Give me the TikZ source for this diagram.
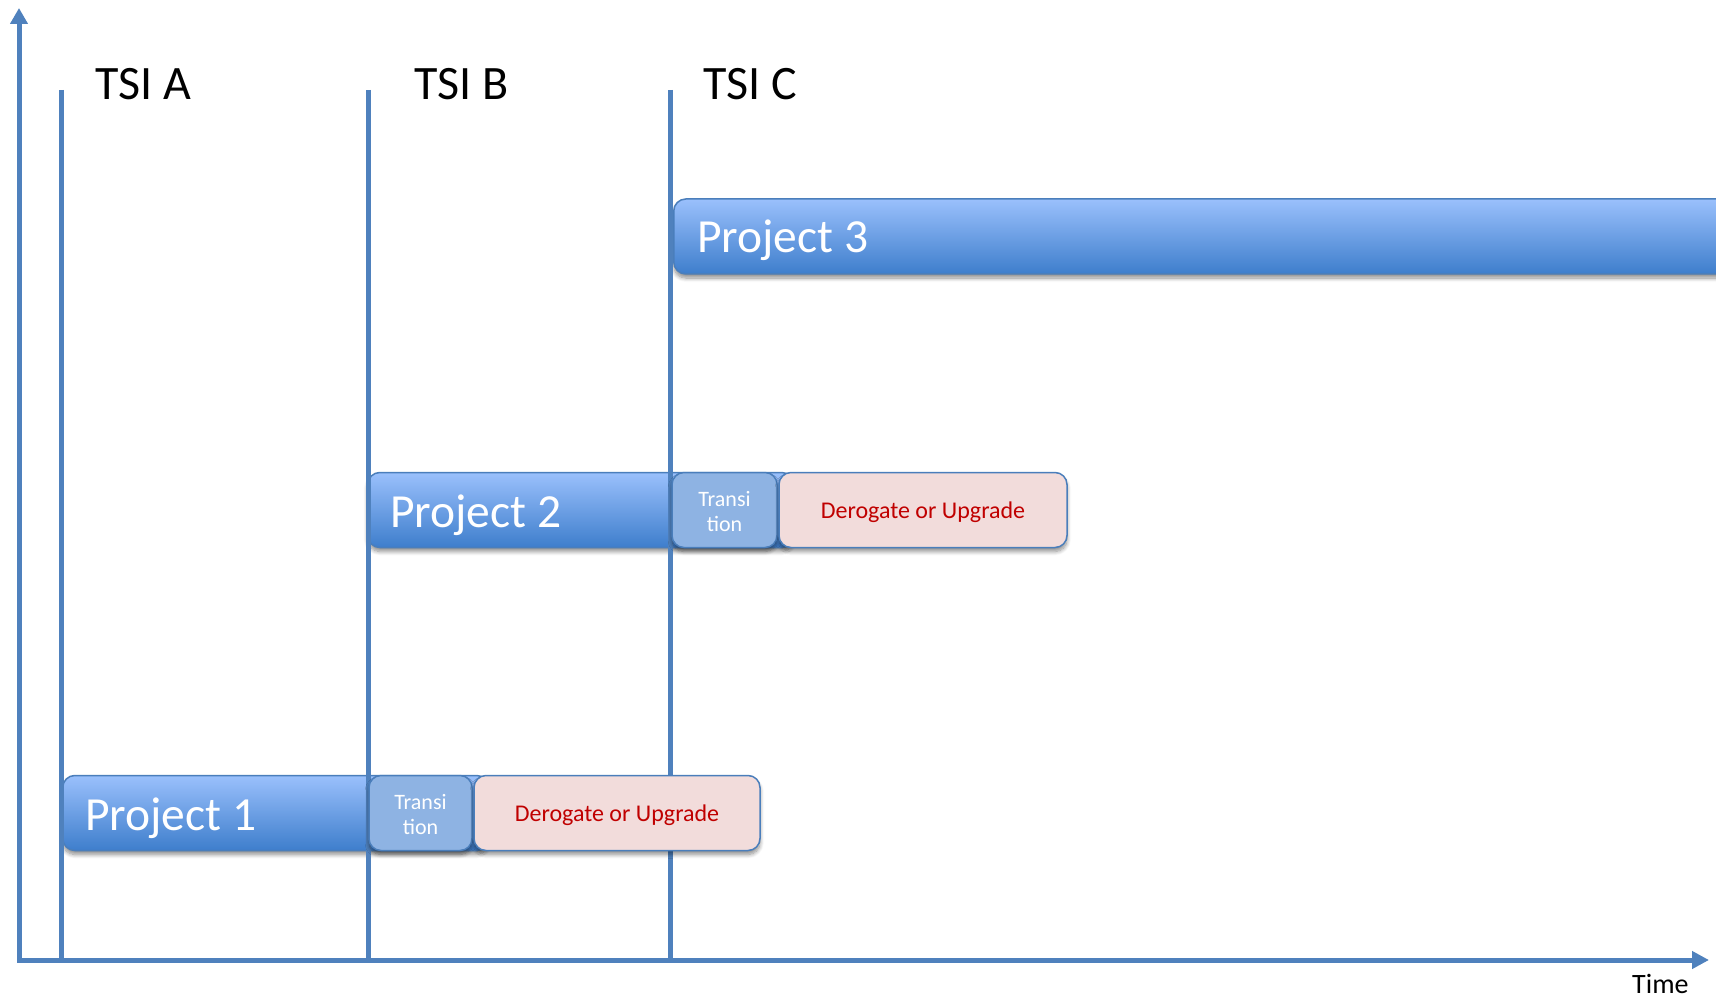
\documentclass[tikz,border=0pt]{standalone}
\usepackage{fontspec}
\setmainfont{Carlito}
\usetikzlibrary{arrows.meta,shadows.blur}

\definecolor{axisblue}{HTML}{4F81BD}
\definecolor{barlight}{HTML}{9AC0FC}
\definecolor{bardark}{HTML}{3E7ECC}
\definecolor{baredge}{HTML}{4A7EBB}
\definecolor{transfill}{HTML}{8EB3E3}
\definecolor{deropink}{HTML}{F2DCDB}
\definecolor{derored}{HTML}{C00000}

\tikzset{
  axisline/.style={draw=axisblue, line width=5pt},
  lineshade/.style={draw=black, line width=5pt, opacity=0.12},
  softshadow/.style={blur shadow={shadow xshift=0pt, shadow yshift=-4pt,
      shadow blur radius=4pt, shadow blur steps=8, shadow opacity=45}},
  projbar/.style={rectangle, rounded corners=12pt, draw=baredge, line width=1.5pt,
      top color=barlight, bottom color=bardark, minimum height=75pt,
      inner sep=0pt, anchor=west, softshadow},
  transbox/.style={rectangle, rounded corners=12pt, draw=baredge, line width=1.5pt,
      fill=transfill, minimum height=75pt, inner sep=0pt, softshadow},
  transtext/.style={inner sep=0pt, text=white, align=center,
      font=\fontsize{22}{25}\selectfont},
  derobox/.style={rectangle, rounded corners=12pt, draw=baredge, line width=1.5pt,
      fill=deropink, minimum height=75pt, inner sep=0pt, text=derored,
      text depth=0pt, font=\fontsize{24}{28}\selectfont, softshadow},
  projlabel/.style={anchor=base west, inner sep=0pt, text=white,
      font=\fontsize{47.5}{56}\selectfont},
  tsilabel/.style={anchor=base west, inner sep=0pt,
      font=\fontsize{48}{58}\selectfont},
}

\begin{document}
\begin{tikzpicture}[x=1pt,y=-1pt]
\useasboundingbox (0,0) rectangle (1716,1000);
\clip (0,0) rectangle (1716,1000);

% axes and TSI milestones
\coordinate (O) at (19,960);
\coordinate (ytip) at (19,8);
\coordinate (xtip) at (1709,960);
\coordinate (atop) at (61,90);
\coordinate (abot) at (61,960);
\coordinate (btop) at (368,90);
\coordinate (bbot) at (368,960);
\coordinate (ctop) at (670,90);
\coordinate (cbot) at (670,960);

% project bars (behind the milestone lines)
\node[projbar, minimum width=426pt] (p1) at (62,813) {};
\node[projbar, minimum width=426pt] (p2) at (367,510) {};
\node[projbar, minimum width=1100pt] (p3) at (673,236.5) {};

% faint line shadows
\begin{scope}[xshift=2pt, yshift=-3pt]
  \draw[lineshade] (atop) -- (abot);
  \draw[lineshade] (btop) -- (bbot);
  \draw[lineshade] (ctop) -- (cbot);
  \draw[lineshade] (O) -- ([xshift=-20pt]xtip);
\end{scope}

\draw[axisline] (atop) -- (abot);
\draw[axisline] (btop) -- (bbot);
\draw[axisline] (ctop) -- (cbot);
\draw[axisline, {Triangle[length=16pt,width=17pt]}-{Triangle[length=17pt,width=17pt]}]
  (ytip) -- (O) -- (xtip);

% transition and derogation boxes (in front of the lines)
\node[transbox, minimum width=103pt] (t1) at (420.5,813) {};
\node[derobox, minimum width=286pt] (d1) at (617,813) {Derogate or Upgrade};
\node[transbox, minimum width=105pt] (t2) at (724.5,510) {};
\node[derobox, minimum width=288pt] (d2) at (923,510) {Derogate or Upgrade};
\node[transtext] (t1text) at ([yshift=-2pt]t1.center) {Transi\\tion};
\node[transtext] (t2text) at ([yshift=-2pt]t2.center) {Transi\\tion};

\node[projlabel] (l1) at (85,830) {Project 1};
\node[projlabel] (l2) at (390,527) {Project 2};
\node[projlabel] (l3) at (697,253) {Project 3};

\node[tsilabel] (tsiA) at (95,100) {TSI A};
\node[tsilabel] (tsiB) at (414,100) {TSI B};
\node[tsilabel] (tsiC) at (703,100) {TSI C};
\node[anchor=base west, inner sep=0pt, font=\fontsize{28}{34}\selectfont]
  (time) at (1632,993) {Time};
\end{tikzpicture}
\end{document}
